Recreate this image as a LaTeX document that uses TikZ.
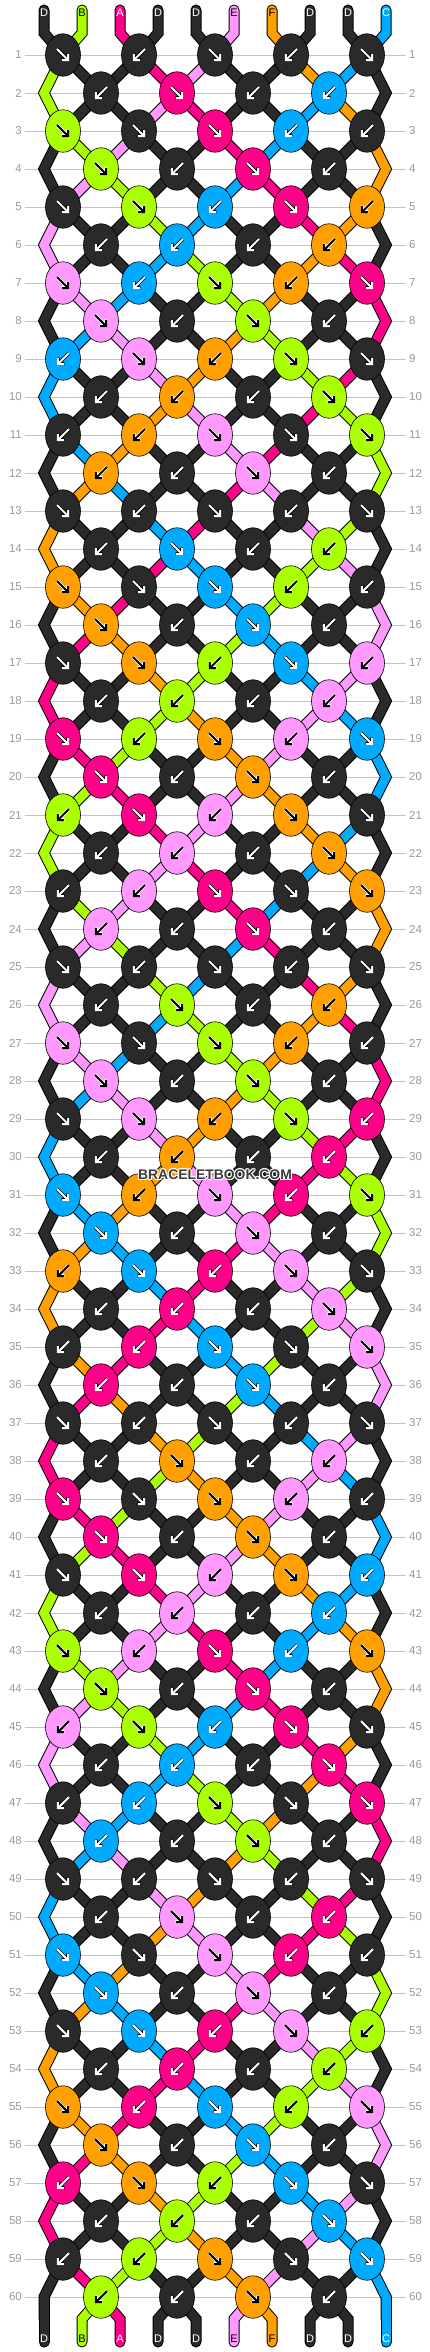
\documentclass[tikz,border=0pt]{standalone}
\usepackage{fontspec}
\setmainfont{Liberation Sans}
\usetikzlibrary{arrows.meta,shapes.geometric}

\definecolor{thrD}{HTML}{2A2A2A}
\definecolor{thrB}{HTML}{AAFF00}
\definecolor{thrA}{HTML}{FF0088}
\definecolor{thrE}{HTML}{FF99FF}
\definecolor{thrF}{HTML}{FFA000}
\definecolor{thrC}{HTML}{00AAFF}
\definecolor{linegray}{HTML}{C4C4C4}
\definecolor{numgray}{HTML}{999999}
\definecolor{markgray}{HTML}{3C3C3C}

\def\inkD{white}\def\inkB{black}\def\inkA{white}
\def\inkE{black}\def\inkF{black}\def\inkC{white}
\def\haloD{black}\def\haloB{white}\def\haloA{black}
\def\haloE{white}\def\haloF{white}\def\haloC{black}

% knot directions, the same every 12 rows (r = forward, l = backward)
\expandafter\def\csname pat1\endcsname{r,l,r,l,r}
\expandafter\def\csname pat2\endcsname{l,r,l,l}
\expandafter\def\csname pat3\endcsname{r,r,r,l,l}
\expandafter\def\csname pat4\endcsname{r,l,r,l}
\expandafter\def\csname pat5\endcsname{r,r,l,r,l}
\expandafter\def\csname pat6\endcsname{l,l,l,l}
\expandafter\def\csname pat7\endcsname{r,l,r,l,r}
\expandafter\def\csname pat8\endcsname{r,l,r,l}
\expandafter\def\csname pat9\endcsname{l,r,l,r,r}
\expandafter\def\csname pat10\endcsname{l,l,l,r}
\expandafter\def\csname pat11\endcsname{l,l,r,r,r}
\expandafter\def\csname pat12\endcsname{l,l,r,l}

\tikzset{
  threadout/.style={line width=11pt, draw=black, line cap=round, line join=miter},
  threadin/.style={line width=9pt, draw=thr#1, line cap=round, line join=miter},
  knot/.style={ellipse, draw=black, line width=0.6pt, fill=thr#1,
    minimum width=35pt, minimum height=42.5pt, inner sep=0pt},
  knotarrow/.style={draw=#1, line width=2.1pt,
    -{Straight Barb[length=4pt,width=8.5pt]}},
  arrowhalo/.style={draw=#1, line width=3.2pt,
    -{Straight Barb[length=4pt,width=8.5pt]}},
  rowline/.style={draw=linegray, line width=0.7pt},
  rownum/.style={text=numgray, font=\fontsize{11.5}{12}\selectfont, inner sep=3pt},
  letter/.style={font=\fontsize{11}{12}\selectfont, inner sep=0pt},
  watermark/.style={font=\bfseries\fontsize{13.9}{14}\selectfont, inner sep=0pt}
}

\newcommand\drawthreads[1]{%
  \foreach \p in {1,...,10}{
    \edef\thr{\csname in-1-\p\endcsname}
    \draw[thread#1=\thr] (top-\p) -- (t-0-\p) -- (t-1-\p);
    \edef\thr{\csname in-61-\p\endcsname}
    \draw[thread#1=\thr] (t-60-\p) -- (t-61-\p) -- (bot-\p);
  }
  \foreach \r in {2,...,60}{
    \pgfmathtruncatemacro\rp{\r-1}
    \foreach \p in {2,...,9}{
      \edef\thr{\csname in-\r-\p\endcsname}
      \draw[thread#1=\thr] (t-\rp-\p) -- (t-\r-\p);
    }
  }
  \foreach \r in {2,4,...,60}{
    \pgfmathtruncatemacro\rp{\r-1}
    \pgfmathtruncatemacro\rn{\r+1}
    \foreach \p in {1,10}{
      \edef\thr{\csname in-\r-\p\endcsname}
      \draw[thread#1=\thr] (t-\rp-\p) -- (t-\r-\p) -- (t-\rn-\p);
    }
  }}

\begin{document}
\begin{tikzpicture}[x=1pt, y=-1pt]
  \useasboundingbox (0,0) rectangle (430,2352);

  % which thread lies where, row by row
  \foreach \p/\init in {1/D,2/B,3/A,4/D,5/D,6/E,7/F,8/D,9/D,10/C}
    {\expandafter\xdef\csname s\p\endcsname{\init}}
  \foreach \r in {1,...,60}{
    \foreach \p in {1,...,10}
      {\expandafter\xdef\csname in-\r-\p\endcsname{\csname s\p\endcsname}}
    \pgfmathtruncatemacro\q{mod(\r-1,12)+1}
    \pgfmathtruncatemacro\first{2-mod(\r,2)}
    \edef\pat{\csname pat\q\endcsname}
    \foreach \dir [count=\kk] in \pat {
      \pgfmathtruncatemacro\ia{\first+2*(\kk-1)}
      \pgfmathtruncatemacro\ja{\ia+1}
      \edef\thrL{\csname s\ia\endcsname}
      \edef\thrR{\csname s\ja\endcsname}
      \if\dir r\xdef\kc{\thrL}\else\xdef\kc{\thrR}\fi
      \expandafter\xdef\csname kc-\r-\kk\endcsname{\kc}
      \expandafter\xdef\csname kt-\r-\kk\endcsname{\dir}
      \expandafter\xdef\csname s\ia\endcsname{\thrR}
      \expandafter\xdef\csname s\ja\endcsname{\thrL}
    }
  }
  \foreach \p in {1,...,10}
    {\expandafter\xdef\csname in-61-\p\endcsname{\csname s\p\endcsname}}

  \foreach \p in {1,...,10}{
    \pgfmathsetmacro\px{6+38*\p}
    \coordinate (top-\p) at (\px,10);
    \coordinate (t-0-\p) at (\px,33);
    \coordinate (t-61-\p) at (\px,2319);
    \coordinate (bot-\p) at (\px,2342);
    \foreach \r in {1,...,60}{
      \pgfmathsetmacro\py{55+38*(\r-1)}
      \pgfmathsetmacro\kx{\px+19-38*mod(\p+\r,2)}
      \ifodd\r\else\ifnum\p=1 \let\kx\px\fi\ifnum\p=10 \let\kx\px\fi\fi
      \coordinate (t-\r-\p) at (\kx,\py);
    }
  }

  \foreach \r in {1,...,60}{
    \pgfmathsetmacro\py{55+38*(\r-1)}
    \node[rownum, anchor=east] (numL-\r) at (25,\py) {\r};
    \node[rownum, anchor=west] (numR-\r) at (406,\py) {\r};
    \draw[rowline] (numL-\r) -- (numR-\r);
  }

  \drawthreads{out}
  \drawthreads{in}

  \foreach \r in {1,...,60}{
    \pgfmathtruncatemacro\first{2-mod(\r,2)}
    \pgfmathtruncatemacro\nk{4+mod(\r,2)}
    \foreach \kk in {1,...,\nk}{
      \pgfmathtruncatemacro\ia{\first+2*(\kk-1)}
      \edef\thr{\csname kc-\r-\kk\endcsname}
      \edef\dir{\csname kt-\r-\kk\endcsname}
      \edef\ink{\csname ink\thr\endcsname}
      \edef\halo{\csname halo\thr\endcsname}
      \node[knot=\thr] (k-\r-\kk) at (t-\r-\ia) {};
      \if\dir r
        \coordinate (k-\r-\kk-s) at ([shift={(-6,-6)}]k-\r-\kk.center);
        \coordinate (k-\r-\kk-e) at ([shift={(6,6)}]k-\r-\kk.center);
      \else
        \coordinate (k-\r-\kk-s) at ([shift={(6,-6)}]k-\r-\kk.center);
        \coordinate (k-\r-\kk-e) at ([shift={(-6,6)}]k-\r-\kk.center);
      \fi
      \draw[arrowhalo=\halo] (k-\r-\kk-s) -- (k-\r-\kk-e);
      \draw[knotarrow=\ink] (k-\r-\kk-s) -- (k-\r-\kk-e);
    }
  }

  \foreach \p/\name in {1/D,2/B,3/A,4/D,5/D,6/E,7/F,8/D,9/D,10/C}{
    \pgfmathsetmacro\px{6+38*\p}
    \edef\ink{\csname ink\name\endcsname}
    \node[letter, text=\ink] (lbltop-\p) at (\px,13) {\name};
    \node[letter, text=\ink] (lblbot-\p) at (\px,2339) {\name};
  }

  \foreach \hx/\hy [count=\h] in {-1/0,1/0,0/-1,0/1,-0.8/-0.8,0.8/0.8,-0.8/0.8,0.8/-0.8}
    \node[watermark, text=white] (markhalo-\h) at (215+\hx,1175+\hy) {BRACELETBOOK.COM};
  \node[watermark, text=markgray] (mark) at (215,1175) {BRACELETBOOK.COM};
\end{tikzpicture}
\end{document}
